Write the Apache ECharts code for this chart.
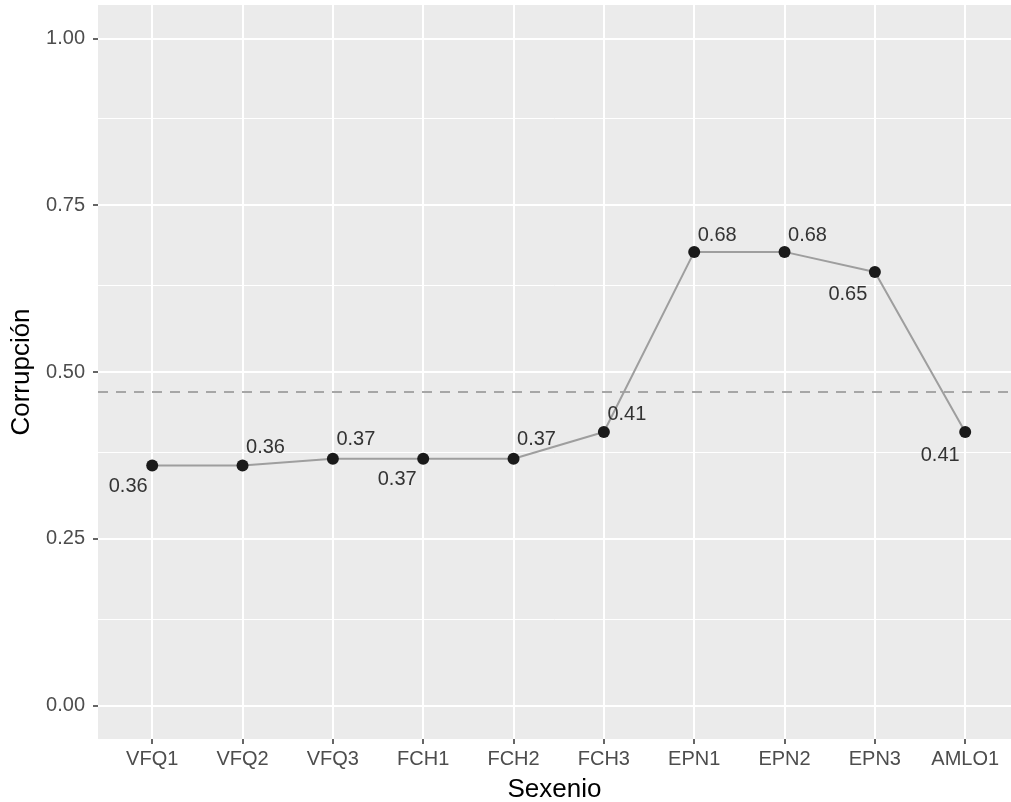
<!DOCTYPE html>
<html>
<head>
<meta charset="utf-8">
<script src="https://cdn.jsdelivr.net/npm/echarts@6/dist/echarts.min.js"></script>
<style>html,body{margin:0;padding:0;background:#fff}#c{width:1011px;height:802px}</style>
</head>
<body>
<div id="c"></div>
<script>
var categories = ['VFQ1','VFQ2','VFQ3','FCH1','FCH2','FCH3','EPN1','EPN2','EPN3','AMLO1'];
var values = [0.36, 0.36, 0.37, 0.37, 0.37, 0.41, 0.68, 0.68, 0.65, 0.41];
var meanValue = 0.47;
var yTicks = [0, 0.25, 0.5, 0.75, 1];
var yMinor = [0.125, 0.375, 0.625, 0.875];

// label placement (style only)
var labelOffsets = [[-24,21],[23,-18],[23,-19],[-26,21],[23,-19],[23,-18],[23,-16],[23,-16],[-27,23],[-25,23]];

var xPos = categories.map(function(c,i){return i+1;});
var data = values.map(function(v,i){
  return {value:[xPos[i], v], label:{offset: labelOffsets[i]}};
});
var FONT = 'Liberation Sans, Arial, sans-serif';

var chart = echarts.init(document.getElementById('c'), null, {renderer:'canvas'});
chart.setOption({
  animation:false,
  backgroundColor:'#ffffff',
  grid:{left:98, top:5, right:0, height:734, backgroundColor:'#EBEBEB', show:true, borderWidth:0,
        containLabel:false, outerBoundsMode:'none'},
  xAxis:{
    type:'value', min:0.4, max:10.507,
    name:'Sexenio', nameLocation:'middle', nameGap:38,
    nameTextStyle:{color:'#000', fontSize:26, fontFamily:FONT},
    axisLine:{show:false, onZero:false},
    axisTick:{show:true, customValues:xPos, length:5, lineStyle:{color:'#333', width:1.5}},
    axisLabel:{customValues:xPos, color:'#4d4d4d', fontSize:20, margin:10, fontFamily:FONT,
      formatter:function(v){ var i=Math.round(v)-1; return categories[i]||''; }},
    splitLine:{show:true, lineStyle:{color:'#ffffff', width:2}}
  },
  yAxis:{
    type:'value', min:-0.05, max:1.05,
    name:'Corrupción', nameLocation:'middle', nameGap:58, nameRotate:90,
    nameTextStyle:{color:'#000', fontSize:26, fontFamily:FONT},
    axisLine:{show:false, onZero:false},
    axisTick:{show:true, customValues:yTicks, length:5, lineStyle:{color:'#333', width:1.5}},
    axisLabel:{customValues:yTicks, color:'#4d4d4d', fontSize:20, margin:13, fontFamily:FONT,
      formatter:function(v){return v.toFixed(2);}},
    splitLine:{show:true, lineStyle:{color:'#ffffff', width:2}}
  },
  series:[
    {
      type:'line', data:[], z:1, silent:true,
      markLine:{silent:true, z:1, symbol:'none', label:{show:false},
        lineStyle:{color:'#ffffff', width:1, type:'solid'},
        data: yMinor.map(function(v){return {yAxis:v};})}
    },
    {
      type:'line', data:[], z:2, silent:true,
      markLine:{silent:true, z:2, symbol:'none', label:{show:false},
        lineStyle:{color:'#a6a6a6', width:2, type:[10,8]},
        data:[{yAxis:meanValue}]}
    },
    {
      type:'line', z:3, data:data,
      lineStyle:{color:'#9e9e9e', width:2},
      symbol:'circle', symbolSize:12,
      itemStyle:{color:'#1a1a1a'},
      label:{show:true, position:'inside', align:'center', verticalAlign:'middle',
        color:'#333333', fontSize:20, fontFamily:FONT,
        formatter:function(p){return p.value[1].toFixed(2);}}
    }
  ]
});
</script>
</body>
</html>
